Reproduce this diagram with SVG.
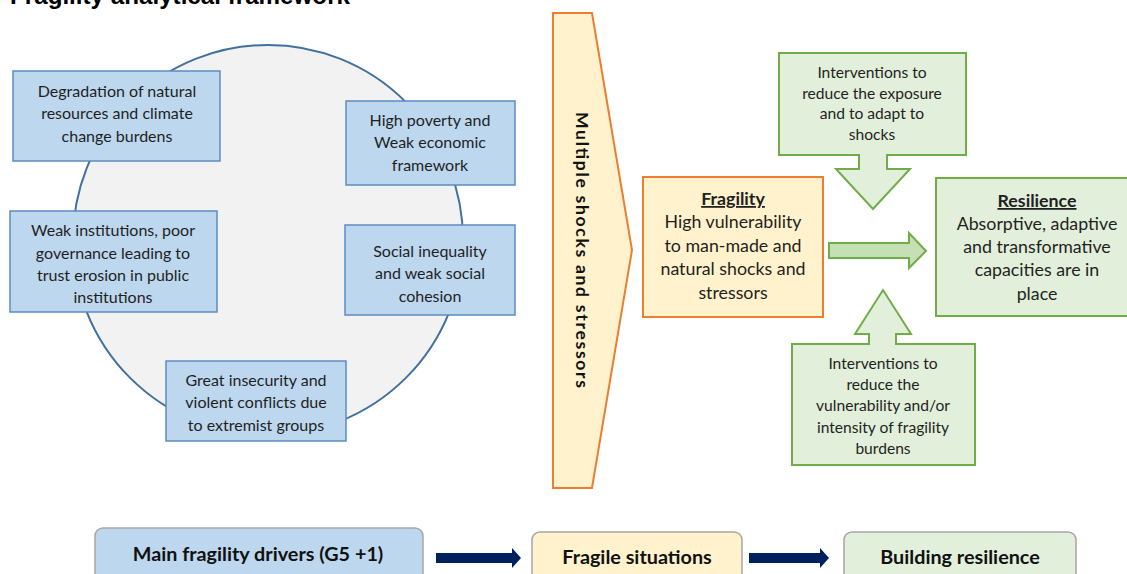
<svg xmlns="http://www.w3.org/2000/svg" width="1127" height="574" viewBox="0 0 1127 574">
<style>
text{font-family:Lato,"Open Sans","Liberation Sans",sans-serif;fill:#1f1f1f;text-anchor:middle}
.blue{fill:#bdd7ee;stroke:#5b8cc4;stroke-width:1.5}
.b{font-size:16px}
.g{fill:#e2efda;stroke:#70ad47;stroke-width:2}
.gs{font-size:15.6px}
.o{fill:#fff2cc;stroke:#ed7d31;stroke-width:2}
.big{font-size:17.8px}
.nav{fill:#002060}
.row{stroke:#a6a6a6;stroke-width:1.5}
.rt{font-size:19.8px;font-weight:bold;fill:#111}
</style>
<text x="10" y="3.5" textLength="340" lengthAdjust="spacingAndGlyphs" style="font-family:'Liberation Sans',Arial,sans-serif;font-weight:bold;font-size:23px;text-anchor:start;fill:#000">Fragility analytical framework</text>
<g id="circle"><circle cx="268" cy="240" r="195" fill="#f2f2f2" stroke="#41719c" stroke-width="2"/></g>
<g id="n-degradation"><rect class="blue" x="13" y="71" width="207" height="90"/>
<text class="b" x="117" y="97">Degradation of natural</text><text class="b" x="117" y="119">resources and climate</text><text class="b" x="117" y="142">change burdens</text></g>
<g id="n-poverty"><rect class="blue" x="346" y="101" width="169" height="84"/>
<text class="b" x="430" y="126">High poverty and</text><text class="b" x="430" y="148">Weak economic</text><text class="b" x="430" y="171">framework</text></g>
<g id="n-institutions"><rect class="blue" x="10" y="211" width="207" height="101"/>
<text class="b" x="113" y="236">Weak institutions, poor</text><text class="b" x="113" y="259">governance leading to</text><text class="b" x="113" y="281">trust erosion in public</text><text class="b" x="113" y="303">institutions</text></g>
<g id="n-inequality"><rect class="blue" x="345" y="225" width="170" height="90"/>
<text class="b" x="430" y="257">Social inequality</text><text class="b" x="430" y="279">and weak social</text><text class="b" x="430" y="302">cohesion</text></g>
<g id="n-insecurity"><rect class="blue" x="166" y="361" width="180" height="80"/>
<text class="b" x="256" y="386">Great insecurity and</text><text class="b" x="256" y="408">violent conflicts due</text><text class="b" x="256" y="431">to extremist groups</text></g>
<g id="n-shocks"><path class="o" d="M553,13 H592 L632,250 L592,488 H553 Z"/>
<text transform="translate(576,250) rotate(90)" style="font-size:17.5px;font-weight:bold;fill:#111" textLength="276" lengthAdjust="spacing">Multiple shocks and stressors</text></g>
<g id="n-fragility"><rect class="o" x="643" y="177" width="180" height="140"/>
<text class="big" x="733" y="205" style="font-weight:bold;text-decoration:underline">Fragility</text>
<text class="big" x="733" y="228">High vulnerability</text><text class="big" x="733" y="252">to man-made and</text><text class="big" x="733" y="275">natural shocks and</text><text class="big" x="733" y="299">stressors</text></g>
<g id="n-resilience"><rect class="g" x="936" y="178" width="195" height="138"/>
<text class="big" x="1037" y="207" style="font-weight:bold;text-decoration:underline">Resilience</text>
<text class="big" x="1037" y="230">Absorptive, adaptive</text><text class="big" x="1037" y="253">and transformative</text><text class="big" x="1037" y="276">capacities are in</text><text class="big" x="1037" y="300">place</text></g>
<g id="n-exposure"><path class="g" d="M779,53 H966 V155 H887 V169 H910 L873,209 L836,169 H859 V155 H779 Z"/>
<text class="gs" x="872" y="78">Interventions to</text><text class="gs" x="872" y="99">reduce the exposure</text><text class="gs" x="872" y="119">and to adapt to</text><text class="gs" x="872" y="140">shocks</text></g>
<g id="n-vulnerability"><path class="g" d="M792,344 H869 V334 H855 L883,290 L911,334 H896 V344 H975 V465 H792 Z"/>
<text class="gs" x="883" y="369">Interventions to</text><text class="gs" x="883" y="390">reduce the</text><text class="gs" x="883" y="411">vulnerability and/or</text><text class="gs" x="883" y="433">intensity of fragility</text><text class="gs" x="883" y="454">burdens</text></g>
<g id="n-drivers"><rect class="row" x="95" y="528" width="328" height="62" rx="8" fill="#bdd7ee"/>
<text class="rt" x="258" y="561">Main fragility drivers (G5 +1)</text></g>
<g id="n-situations"><rect class="row" x="532" y="532" width="210" height="58" rx="8" fill="#fff2cc"/>
<text class="rt" x="637" y="564">Fragile situations</text></g>
<g id="n-building"><rect class="row" x="844" y="532" width="232" height="58" rx="8" fill="#e2efda"/>
<text class="rt" x="960" y="564">Building resilience</text></g>
<g id="connectors">
<path d="M829,243 H909 V233 L926,251 L909,268 V258 H829 Z" fill="#c5e0b4" stroke="#70ad47" stroke-width="2"/>
<path class="nav" d="M436,553 H512 V548 L521,558 L512,568 V563 H436 Z"/>
<path class="nav" d="M749,553 H820 V548 L829,558 L820,568 V563 H749 Z"/>
</g>
</svg>
